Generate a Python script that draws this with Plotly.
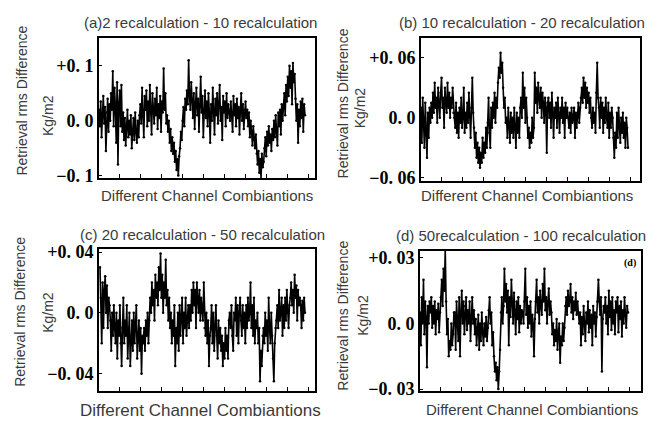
import plotly.graph_objects as go

W, H = 658, 426

titles = ["(a)2 recalculation - 10 recalculation",
          "(b) 10 recalculation - 20 recalculation",
          "(c) 20 recalculation - 50 recalculation",
          "(d) 50recalculation - 100 recalculation"]
x_title = "Different Channel Combiantions"
y_title = "Retrieval rms Difference"
y_unit = "Kg/m2"

a_vals = [0.02, -0.01, 0.035, -0.03, 0.01, 0.045, -0.005, 0.025, -0.055, 0.015, 0.04, -0.02, 0.03,
          0.0, 0.05, 0.02, 0.09, -0.01, 0.06, 0.025, -0.04, 0.07, -0.08, 0.03, 0.055, -0.01, 0.065,
          -0.02, 0.015, -0.035, 0.005, -0.045, -0.01, 0.02, -0.03, 0.0, -0.025, 0.01, -0.05, -0.015, 0.005,
          -0.035, 0.015, -0.02, -0.04, 0.0, -0.03, 0.01,
          0.03, -0.005, 0.06, 0.01, -0.03, 0.045, 0.02, 0.055, -0.01, 0.035, 0.0, 0.065, 0.015, -0.025,
          0.05, 0.025, -0.005, 0.04, 0.01, 0.06, -0.015, 0.03, 0.005, 0.045, -0.02, 0.035, 0.015, 0.095,
          0.02, 0.05, -0.005,
          0.01, -0.02, 0.0, -0.04, -0.015, -0.055, -0.03, -0.06, -0.04, -0.075, -0.055, -0.09, -0.07, -0.1, -0.065,
          -0.05, -0.02, -0.035, 0.0, 0.025, -0.01, 0.04, 0.02, 0.055, 0.03, 0.11, 0.045,
          0.02, 0.07, 0.035, 0.005, 0.05, -0.015, 0.03, 0.06, 0.01, 0.04, -0.02, 0.025, 0.08, 0.015, 0.045,
          -0.03, 0.02, 0.055, 0.005, 0.035, -0.01, 0.05, 0.015, -0.04, 0.03, 0.0, 0.06, 0.02, -0.025, 0.04,
          0.01, 0.05, -0.005, 0.03, 0.065, 0.0, 0.025, -0.035, 0.045, 0.015, 0.035, -0.01, 0.05, 0.005, 0.03, 0.015,
          0.0, 0.035, 0.015, -0.02, 0.045, 0.01, 0.03, -0.01, 0.04, 0.005, 0.025, -0.025, 0.02, 0.05, 0.0,
          0.03, -0.015, 0.02, 0.035, 0.005,
          0.02, -0.01, 0.015, -0.03, 0.0, -0.02, -0.045, -0.01, -0.035, -0.05, -0.025, -0.06,
          -0.08, -0.055, -0.095, -0.07, -0.105, -0.06, -0.085, -0.075,
          -0.05, -0.03, -0.065, -0.02, -0.045, -0.01, -0.04, -0.025, -0.055, -0.015, -0.035, 0.0, -0.03, 0.01,
          -0.02, -0.045, 0.015, -0.01, 0.02, -0.025, 0.03, 0.0,
          0.025, 0.05, 0.01, 0.065, 0.035, 0.08, 0.045, 0.1, 0.06, 0.09, 0.03, 0.105, 0.07, 0.085,
          0.04, 0.0, 0.03, -0.04, 0.02, -0.01, 0.035, 0.005, 0.04, -0.02, 0.03, 0.01]

b_vals = [0.01, -0.025, 0.02, 0.0, -0.03, 0.015, -0.01, -0.04, 0.005, -0.02, 0.01, -0.005,
          0.015, 0.0, 0.025, 0.005, 0.035, 0.01, 0.02, -0.005, 0.03, 0.015, 0.0, 0.025, 0.04, 0.01, 0.02,
          -0.01, 0.03, 0.015, 0.005, 0.035, 0.01, 0.025, 0.0, 0.02, 0.01, 0.03, 0.005,
          0.0, -0.01, 0.015, -0.015, 0.005, -0.02, 0.01, -0.005, 0.02, -0.01, 0.0, 0.03, -0.015, 0.005, -0.01,
          0.015, -0.005, 0.025, 0.0, -0.02, 0.01, 0.04, 0.005,
          -0.01, -0.03, -0.015, -0.04, -0.025, -0.045, -0.03, -0.05, -0.035, -0.045, -0.02, -0.04, -0.025,
          -0.035, -0.01, -0.03,
          -0.005, 0.02, -0.015, -0.03, 0.01, -0.01, 0.015, 0.0, 0.025, -0.005, 0.02, 0.01,
          0.035, 0.05, 0.04, 0.065, 0.045, 0.055,
          0.03, 0.01, 0.02, -0.005, 0.0, -0.02, 0.01, -0.01, -0.025, 0.005, -0.015, 0.0, -0.02, 0.01, -0.01,
          -0.03, 0.005, -0.015, 0.0, -0.02, 0.01,
          0.02, 0.0, 0.045, 0.01, 0.03, -0.005, 0.02, 0.0,
          -0.02, -0.01, -0.03, -0.015, -0.025, 0.0, -0.02, -0.01,
          0.045, 0.015, 0.03, 0.005, 0.035, 0.02, 0.01, 0.03, 0.0, 0.025, 0.015, -0.005, 0.02, 0.01, -0.035, 0.015,
          0.02, 0.0, 0.015, -0.01, 0.025, 0.005, -0.02, 0.01, 0.0, 0.015, -0.01, 0.02, 0.005, -0.015, 0.01,
          0.0, 0.02, -0.005, 0.01, -0.02, 0.015, 0.0, 0.01,
          0.0, -0.01, 0.005, -0.015, 0.01, -0.005, 0.0, 0.01, -0.02, 0.005, -0.01, 0.0, 0.015, -0.005, 0.01,
          0.02, 0.03, 0.015, 0.04, 0.02, 0.035, 0.01, 0.03, 0.015, 0.025, 0.005, 0.02,
          0.0, -0.01, 0.01, -0.005, 0.005, -0.015, 0.025, 0.055,
          0.02, 0.01, -0.01, 0.02, 0.0, 0.015, -0.015, 0.01, -0.005, 0.02, 0.0, -0.01, 0.015, -0.02, 0.005,
          -0.01, 0.01, 0.0,
          -0.02, -0.04, -0.015, -0.03,
          0.005, -0.02, 0.01, -0.01, -0.025, 0.0, -0.015, 0.005, -0.02, -0.005, -0.03, 0.0, -0.01, -0.03]

c_vals = [0.03, 0.01, -0.02, 0.02, -0.01, 0.015,
          0.024, 0.0, 0.018, -0.01, 0.01, 0.005,
          -0.005, -0.025, 0.0, -0.015, 0.005, -0.01, -0.02, 0.0, -0.03, -0.005, -0.015, 0.005, -0.02, -0.035, -0.01,
          0.01, -0.02, -0.005, -0.015, 0.005, -0.03, -0.01, 0.0, -0.035, -0.015, -0.005, -0.025, 0.0, -0.02,
          -0.01, 0.005, -0.03, -0.015, -0.005, -0.025, -0.01, -0.04, -0.015,
          -0.02, -0.01, -0.025, -0.005, -0.015, 0.0, -0.02, -0.005,
          0.01, 0.0, 0.02, 0.005, 0.015, -0.005, 0.025, 0.01, 0.02, 0.005, 0.03, 0.015, 0.039, 0.01, 0.025,
          0.0, 0.02, 0.01, 0.035, 0.005, 0.015, -0.005, 0.01,
          -0.01, 0.0, -0.02, -0.005, -0.015, 0.005, -0.035, -0.01, -0.02, 0.0, -0.025, 0.005, -0.015, -0.005,
          0.01, -0.02, 0.0, -0.01, 0.01, -0.015, -0.005, 0.005, -0.01,
          0.005, -0.005, 0.015, 0.0, 0.02, 0.005, 0.015, -0.01, 0.02, 0.01, 0.0, 0.015, -0.005, 0.01, 0.0,
          -0.005, 0.02, -0.01, -0.015, 0.0, -0.02, -0.005, -0.035, -0.015, -0.01, 0.005, -0.02, 0.0, -0.025,
          -0.01, 0.005, -0.015, -0.03, -0.005, -0.02, -0.01, -0.025, -0.015,
          -0.035, -0.02, -0.03, -0.01, -0.025, -0.015, -0.03, -0.005,
          0.0, -0.01, 0.005, -0.015, -0.025, 0.0, -0.005, 0.01, -0.015, 0.005, -0.02, 0.0, 0.01, -0.005,
          -0.015, 0.005, -0.01, 0.0, -0.02, 0.005, -0.01, 0.01, -0.005,
          0.0, 0.02, -0.01, 0.005, -0.015, 0.01, -0.02, -0.005, -0.01, 0.0, -0.02, -0.01,
          -0.045, -0.025, -0.035, -0.015,
          -0.01, -0.02, 0.0, -0.015, -0.005, -0.025, 0.01, -0.01, -0.02, 0.0, -0.015, -0.03,
          -0.045, -0.02, -0.01,
          -0.005, 0.005, -0.01, 0.015, -0.005, 0.0, 0.01, -0.015, 0.005, -0.01, 0.01, -0.005, 0.015, 0.0, -0.01, 0.005,
          0.01, 0.02, 0.005, 0.015, 0.0, 0.025, 0.01, 0.018, -0.005, 0.015, 0.005, 0.01,
          0.005, -0.01, 0.008, -0.005, 0.01, 0.0]

d_vals = [0.005, -0.01, 0.012, 0.0, 0.02, -0.005, 0.01, 0.003, -0.02, 0.008, 0.0, 0.01,
          0.005, 0.012, -0.002, 0.008, 0.0, 0.01, -0.005, 0.006, 0.002, 0.009, -0.004, 0.005,
          0.012, 0.02, 0.008, 0.025, 0.015, 0.034,
          0.01, -0.005, 0.002, -0.015, -0.008, -0.012, 0.0, -0.01, -0.005, 0.005,
          0.005, -0.012, 0.01, 0.0, -0.008, 0.012, -0.015, 0.005, 0.015, 0.0, 0.01, -0.005, 0.008, 0.012,
          -0.003, 0.006, 0.0, 0.01, -0.008, 0.004, 0.012, 0.0, 0.006,
          -0.005, 0.002, -0.01, -0.003, 0.004, -0.012, 0.0, -0.008, 0.005, -0.004, -0.01, 0.0, -0.006, 0.003,
          -0.008, -0.002,
          0.006, 0.012, 0.0, 0.005, -0.01, -0.004,
          -0.015, -0.022, -0.018, -0.026, -0.02, -0.03, -0.022, -0.012,
          0.005, 0.012, 0.0, 0.008, 0.025, 0.01, 0.018, 0.005, 0.015, -0.01, 0.012, 0.003, 0.02, 0.008, 0.0,
          0.014, 0.006, -0.005, 0.01, 0.002, 0.012, -0.004, 0.008, 0.0, 0.006,
          0.005, 0.0, 0.01, 0.025, 0.004, 0.012, -0.002, 0.008, 0.0, 0.01, -0.006, 0.004, 0.0, -0.015, 0.002,
          0.01, 0.02, 0.005, 0.012, 0.0, 0.015, 0.008, 0.004, 0.018, 0.01, 0.025, 0.006, 0.012, 0.0, 0.01,
          0.016, 0.004, 0.01, 0.005,
          -0.005, 0.0, -0.01, -0.003, -0.008, 0.002, -0.012, -0.004, 0.0, -0.018, -0.006, -0.01, 0.0, -0.008, -0.002,
          0.008, 0.012, 0.004, 0.015, 0.008, 0.01, 0.018, 0.005, 0.012, 0.002, 0.01, 0.006, 0.014, 0.004, 0.01, 0.005,
          0.0, 0.005, -0.01, 0.003, -0.005, 0.008, 0.0, -0.008, 0.005, 0.0, 0.01, -0.004, 0.006, -0.002, 0.004,
          -0.01, 0.008, 0.0, 0.005, -0.006, 0.003, 0.01, 0.02,
          0.01, 0.004, 0.012, -0.022, 0.002, 0.008,
          0.005, 0.012, 0.0, 0.008, -0.005, 0.015, 0.003, 0.01, -0.003, 0.012, 0.0, 0.006, -0.005, 0.01,
          0.005, 0.012, -0.004, 0.008, 0.002, 0.01, -0.006, 0.006, 0.0, 0.012, 0.004, -0.002, 0.008, 0.005]

series = [a_vals, b_vals, c_vals, d_vals]

y_tickvals = [[0.1, 0.0, -0.1], [0.06, 0.0, -0.06], [0.04, 0.0, -0.04], [0.03, 0.0, -0.03]]
y_ticktext = [["+0. 1", "0. 0", "\u22120. 1"], ["+0. 06", "0. 0", "\u22120. 06"],
              ["+0. 04", "0. 0", "\u22120. 04"], ["+0. 03", "0. 0", "\u22120. 03"]]
y_ranges = [[-0.104, 0.151], [-0.063, 0.080], [-0.0514, 0.0419], [-0.0309, 0.0331]]

# panel layout in pixels: box (left, top, right, bottom), data x extent (left, right)
boxes = [(99, 32, 315, 177), (421, 32, 640, 180), (99, 251, 315, 398), (420, 253, 641, 398)]
data_x = [(99, 305), (421, 628), (100, 305), (420, 628)]
title_pos = [(201, 16), (522, 16), (202, 236), (521, 237)]
xt_pos = [(207, 195, 15), (527, 195, 15), (200, 418, 17), (532, 417, 15)]
yt_pos = [(22, 97), (343, 100), (20, 316), (343, 320)]
yu_pos = [(48, 113), (360, 105), (48, 317), (363, 320)]

text_color = "#3a3a3a"

fig = go.Figure()
layout = dict(width=W, height=H, margin=dict(l=0, r=0, t=0, b=0),
              paper_bgcolor="white", plot_bgcolor="white", showlegend=False)
annotations = []

for i, vals in enumerate(series):
    n = len(vals)
    bl, bt, br, bb = boxes[i]
    dl, dr = data_x[i]
    ppu = (dr - dl) / (n - 1)
    x0 = -(dl - bl) / ppu
    x1 = (n - 1) + (br - dr) / ppu
    xs = list(range(n))
    sfx = "" if i == 0 else str(i + 1)
    fig.add_trace(go.Scatter(x=xs, y=vals, mode="lines+markers",
                             line=dict(color="black", width=1.6),
                             marker=dict(color="black", size=2.5),
                             xaxis="x" + sfx, yaxis="y" + sfx, cliponaxis=True))
    layout["xaxis" + sfx] = dict(
        domain=[bl / W, br / W], range=[x0, x1], anchor="y" + sfx,
        showline=True, mirror=True, linecolor="black", linewidth=1.6,
        showgrid=False, zeroline=False, showticklabels=False,
        ticks="inside", ticklen=4, tickcolor="black",
        tickmode="linear", tick0=x0 + 20 / ppu, dtick=21 / ppu)
    layout["yaxis" + sfx] = dict(
        domain=[1 - bb / H, 1 - bt / H], range=y_ranges[i], anchor="x" + sfx,
        showline=True, mirror=True, linecolor="black", linewidth=1.6,
        showgrid=False, zeroline=False,
        tickmode="array", tickvals=y_tickvals[i], ticktext=y_ticktext[i],
        ticks="inside", ticklen=3, tickcolor="black",
        tickfont=dict(family="Liberation Serif", size=18, color="black", weight="bold"))
    annotations.append(dict(text=titles[i], x=title_pos[i][0] / W, y=1 - title_pos[i][1] / H,
                            xref="paper", yref="paper", showarrow=False,
                            xanchor="center", yanchor="middle",
                            font=dict(family="Liberation Sans", size=15, color=text_color)))
    annotations.append(dict(text=x_title, x=xt_pos[i][0] / W, y=1 - xt_pos[i][1] / H,
                            xref="paper", yref="paper", showarrow=False,
                            xanchor="center", yanchor="middle",
                            font=dict(family="Liberation Sans", size=xt_pos[i][2], color=text_color)))
    annotations.append(dict(text=y_title, x=yt_pos[i][0] / W, y=1 - yt_pos[i][1] / H,
                            xref="paper", yref="paper", showarrow=False, textangle=-90,
                            xanchor="center", yanchor="middle",
                            font=dict(family="Liberation Sans", size=14, color=text_color)))
    annotations.append(dict(text=y_unit, x=yu_pos[i][0] / W, y=1 - yu_pos[i][1] / H,
                            xref="paper", yref="paper", showarrow=False, textangle=-90,
                            xanchor="center", yanchor="middle",
                            font=dict(family="Liberation Sans", size=14, color=text_color)))

annotations.append(dict(text="(d)", x=630 / W, y=1 - 265 / H, xref="paper", yref="paper",
                        showarrow=False, xanchor="center", yanchor="middle",
                        font=dict(family="Liberation Serif", size=10, color="black", weight="bold")))

layout["annotations"] = annotations
fig.update_layout(**layout)
fig.write_html("out.html")
